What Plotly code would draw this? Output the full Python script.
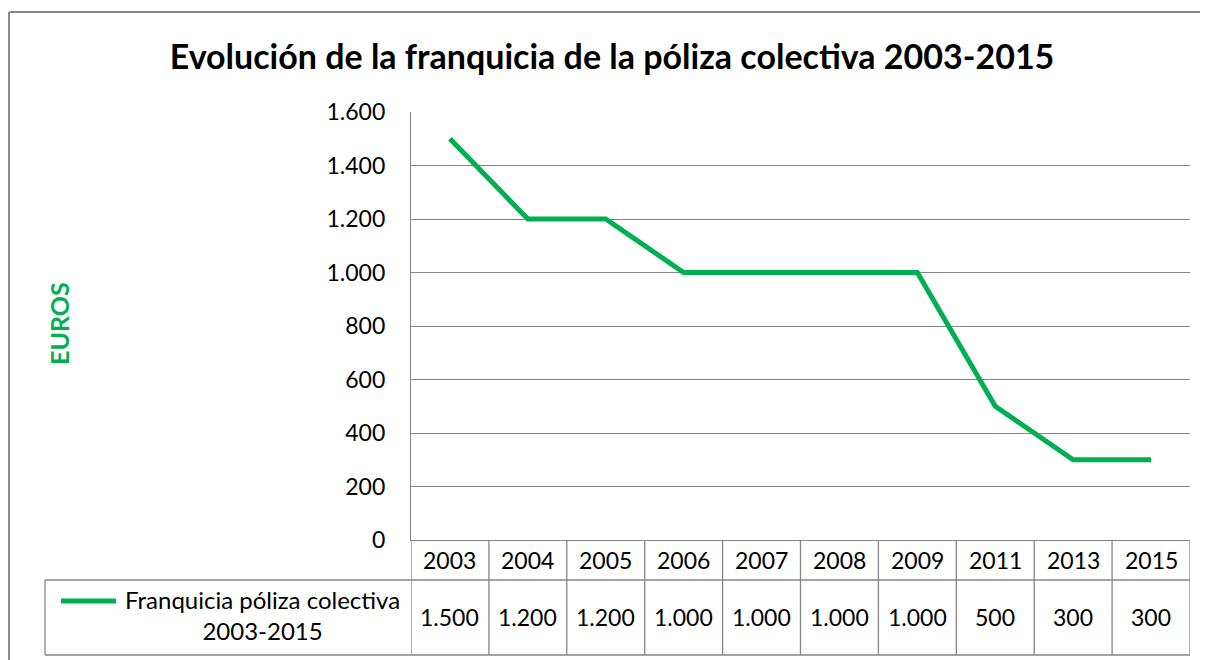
import plotly.graph_objects as go

years = ["2003", "2004", "2005", "2006", "2007", "2008", "2009", "2011", "2013", "2015"]
franquicia = [1500, 1200, 1200, 1000, 1000, 1000, 1000, 500, 300, 300]
value_labels = ["1.500", "1.200", "1.200", "1.000", "1.000", "1.000", "1.000", "500", "300", "300"]
series_name = "Franquicia póliza colectiva<br>2003-2015"
title_text = "Evolución de la franquicia de la póliza colectiva 2003-2015"
y_title = "EUROS"

OFF = 8  # default page body margin
W, H = 1208 - OFF, 660 - OFF
# plot-area edges in screen pixels
L, R, T, B = 411, 1190, 112, 540
TABLE_BOTTOM = 655
GREEN = "#00B050"
GRID = "#868686"
FONT = "Lato"
FS = 23


def px_x(px):
    return (px - L) / (R - L)


def px_y(py):
    return (B - py) / (B - T)


fig = go.Figure()
fig.add_trace(go.Scatter(
    x=years, y=franquicia, mode="lines",
    line=dict(color=GREEN, width=5),
    showlegend=False, hoverinfo="x+y",
))

shapes = []
line_style = dict(color=GRID, width=1.3)
border = dict(color="#898989", width=2)
# Outer chart border (top and left edges; the rest falls outside the view)
shapes.append(dict(type="line", xref="paper", yref="paper",
                   x0=px_x(9), x1=px_x(1230), y0=px_y(12), y1=px_y(12), line=border))
shapes.append(dict(type="line", xref="paper", yref="paper",
                   x0=px_x(9), x1=px_x(9), y0=px_y(12), y1=px_y(680), line=border))
# Data table horizontal lines
for py in (580, TABLE_BOTTOM):
    shapes.append(dict(type="line", xref="paper", yref="paper",
                       x0=px_x(45), x1=1, y0=px_y(py), y1=px_y(py), line=line_style))
# Legend cell left edge
shapes.append(dict(type="line", xref="paper", yref="paper",
                   x0=px_x(45), x1=px_x(45), y0=px_y(580), y1=px_y(TABLE_BOTTOM), line=line_style))
# Column separators (category boundaries)
for i in range(len(years) + 1):
    shapes.append(dict(type="line", xref="x", yref="paper",
                       x0=i - 0.5, x1=i - 0.5, y0=px_y(540), y1=px_y(TABLE_BOTTOM), line=line_style))
# Legend key line
shapes.append(dict(type="line", xref="paper", yref="paper",
                   x0=px_x(61), x1=px_x(116), y0=px_y(601), y1=px_y(601),
                   line=dict(color=GREEN, width=5)))

annotations = []
for i, yr in enumerate(years):
    annotations.append(dict(x=i, y=px_y(560), xref="x", yref="paper", text=yr,
                            showarrow=False, font=dict(size=FS, color="#000000", family=FONT),
                            xanchor="center", yanchor="middle"))
    annotations.append(dict(x=i, y=px_y(617), xref="x", yref="paper", text=value_labels[i],
                            showarrow=False, font=dict(size=FS, color="#000000", family=FONT),
                            xanchor="center", yanchor="middle"))
annotations.append(dict(x=px_x(262), y=px_y(615), xref="paper", yref="paper", text=series_name,
                        showarrow=False, align="center",
                        font=dict(size=24, color="#000000", family=FONT),
                        xanchor="center", yanchor="middle"))
annotations.append(dict(x=px_x(59), y=px_y(324), xref="paper", yref="paper", text="<b>" + y_title + "</b>",
                        showarrow=False, textangle=-90,
                        font=dict(size=25, color=GREEN, family=FONT),
                        xanchor="center", yanchor="middle"))

fig.update_layout(
    width=W, height=H, autosize=False,
    margin=dict(l=L - OFF, r=W - (R - OFF), t=T - OFF, b=H - (B - OFF), pad=0),
    paper_bgcolor="white", plot_bgcolor="white",
    separators=",.",
    font=dict(family=FONT, color="#000000"),
    title=dict(text="<b>" + title_text + "</b>", xref="container", yref="container",
               x=(612 - OFF) / W, y=1 - (57 - OFF) / H, xanchor="center", yanchor="middle",
               font=dict(size=34, family=FONT, color="#000000")),
    xaxis=dict(type="category", range=[-0.5, len(years) - 0.5], showticklabels=False,
               showgrid=False, zeroline=False, showline=True, linecolor=GRID, linewidth=1.3,
               ticks="", fixedrange=True),
    yaxis=dict(range=[0, 1600], dtick=200, tickformat=",d", showgrid=True, gridcolor=GRID,
               gridwidth=1, zeroline=False, showline=True, linecolor=GRID, linewidth=1.3,
               ticks="", ticklabelstandoff=20, tickfont=dict(size=FS, family=FONT, color="#000000"),
               fixedrange=True),
    shapes=shapes,
    annotations=annotations,
)

fig.write_html("out.html")
